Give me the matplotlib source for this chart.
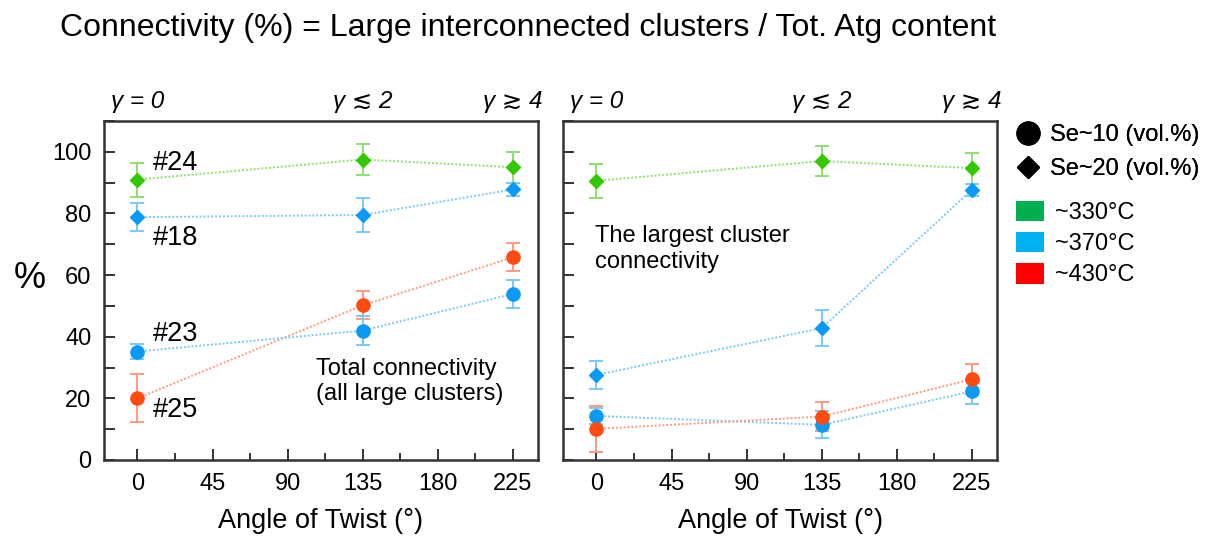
import matplotlib
matplotlib.use("Agg")
import matplotlib.pyplot as plt
from matplotlib.lines import Line2D
from matplotlib.patches import Patch
from matplotlib.ticker import MultipleLocator

plt.rcParams['font.family'] = ['Liberation Sans', 'DejaVu Sans']

angles = [0, 135, 225]

# Left panel: total connectivity
left_green_dia = [91.0, 97.5, 95.0]
left_green_dia_err = [5.5, 5.0, 5.0]
left_blue_dia = [78.8, 79.5, 87.8]
left_blue_dia_err = [4.5, 5.5, 2.0]
left_red_circ = [20.0, 50.2, 65.8]
left_red_circ_err = [7.8, 4.5, 4.6]
left_blue_circ = [35.2, 42.0, 53.9]
left_blue_circ_err = [2.5, 4.6, 4.6]

# Right panel: largest cluster connectivity
right_green_dia = [90.6, 97.0, 94.7]
right_green_dia_err = [5.5, 5.0, 5.0]
right_blue_dia = [27.6, 42.8, 87.7]
right_blue_dia_err = [4.5, 5.8, 2.0]
right_red_circ = [10.1, 14.1, 26.2]
right_red_circ_err = [7.5, 4.6, 4.8]
right_blue_circ = [14.3, 11.4, 22.3]
right_blue_circ_err = [2.5, 4.4, 4.0]

gamma_labels = ["γ = 0", "γ ≲ 2", "γ ≳ 4"]
xticks = [0, 45, 90, 135, 180, 225]
yticks = [0, 20, 40, 60, 80, 100]
legend_shape_labels = ["Se~10 (vol.%)", "Se~20 (vol.%)"]
legend_temp_labels = ["~330°C", "~370°C", "~430°C"]

GREEN = "#33c800"
GREEN_L = "#8fe070"
BLUE = "#0a9af5"
BLUE_L = "#7cc8f7"
RED = "#ff4a10"
RED_L = "#ff9a80"

fig = plt.figure(figsize=(12.12, 5.36), dpi=100)
axL = fig.add_axes([104/1212, 1-460/536, 434/1212, 339/536])
axR = fig.add_axes([563/1212, 1-460/536, 434/1212, 339/536])


def series(ax, y, err, color, lcolor, marker, ms):
    ax.errorbar(angles, y, yerr=err, fmt='none', ecolor=lcolor, elinewidth=1.4,
                capsize=5, capthick=1.4, zorder=2)
    ax.plot(angles, y, linestyle=(0, (1, 1)), color=lcolor, linewidth=1.4, zorder=2)
    ax.plot(angles, y, linestyle='none', marker=marker, markersize=ms,
            color=color, markeredgecolor=color, zorder=3)


for ax, data in [
    (axL, [(left_green_dia, left_green_dia_err, GREEN, GREEN_L, 'D', 7.0),
           (left_blue_dia, left_blue_dia_err, BLUE, BLUE_L, 'D', 7.0),
           (left_red_circ, left_red_circ_err, RED, RED_L, 'o', 9.5),
           (left_blue_circ, left_blue_circ_err, BLUE, BLUE_L, 'o', 9.5)]),
    (axR, [(right_green_dia, right_green_dia_err, GREEN, GREEN_L, 'D', 7.0),
           (right_blue_dia, right_blue_dia_err, BLUE, BLUE_L, 'D', 7.0),
           (right_blue_circ, right_blue_circ_err, BLUE, BLUE_L, 'o', 9.5),
           (right_red_circ, right_red_circ_err, RED, RED_L, 'o', 9.5)]),
]:
    for y, e, c, lc, m, ms in data:
        series(ax, y, e, c, lc, m, ms)
    ax.set_xlim(-20, 240)
    ax.set_ylim(0, 110)
    ax.set_xticks(xticks)
    ax.xaxis.set_minor_locator(MultipleLocator(22.5))
    ax.set_yticks(yticks)
    ax.yaxis.set_minor_locator(MultipleLocator(10))
    ax.tick_params(axis='both', which='major', direction='in', length=8, width=1.4,
                   color='#333333', labelsize=17, pad=9)
    ax.tick_params(axis='y', which='minor', direction='in', length=8, width=1.4, color='#333333')
    ax.tick_params(axis='x', which='minor', direction='in', length=5, width=1.4, color='#333333')
    for s in ax.spines.values():
        s.set_linewidth(1.8)
        s.set_color('#333333')
    ax.set_xlabel("Angle of Twist (°)", fontsize=19.5, labelpad=10)
    for xv, lab in zip(angles, gamma_labels):
        ax.text(xv, 1.025, lab, transform=ax.get_xaxis_transform(), ha='center',
                va='bottom', fontsize=17.5, style='italic',
                family=['Liberation Sans', 'DejaVu Sans'])

axR.tick_params(axis='y', labelleft=False)
axL.set_ylabel("%", fontsize=26, rotation=0, va='center', ha='center')
axL.yaxis.set_label_coords(-0.17, 0.535)

# Annotations
axL.text(9, 96.5, "#24", fontsize=19.5, va='center', ha='left')
axL.text(9, 72.0, "#18", fontsize=19.5, va='center', ha='left')
axL.text(9, 41.0, "#23", fontsize=19.5, va='center', ha='left')
axL.text(9, 16.2, "#25", fontsize=19.5, va='center', ha='left')
axL.text(107, 25.5, "Total connectivity\n(all large clusters)", fontsize=17,
         va='center', ha='left', linespacing=1.2)
axR.text(-1, 68.5, "The largest cluster\nconnectivity", fontsize=17,
         va='center', ha='left', linespacing=1.2)

fig.text(60/1212, 1-28/536, "Connectivity (%) = Large interconnected clusters / Tot. Atg content",
         fontsize=23, va='center', ha='left')

# Legends
shape_handles = [Line2D([], [], linestyle='none', marker='o', markersize=16.5, color='black'),
                 Line2D([], [], linestyle='none', marker='D', markersize=11, color='black')]
leg1 = fig.legend(shape_handles, legend_shape_labels, loc='upper left',
                  bbox_to_anchor=(1016/1212, 1-124/536), frameon=False, fontsize=17,
                  handlelength=1.0, handletextpad=0.45, labelspacing=0.5, borderaxespad=0,
                  borderpad=0)
temp_handles = [Patch(facecolor="#00b050"), Patch(facecolor="#00b0f0"), Patch(facecolor="#ff0000")]
leg2 = fig.legend(temp_handles, legend_temp_labels, loc='upper left',
                  bbox_to_anchor=(1016/1212, 1-201/536), frameon=False, fontsize=17,
                  handlelength=1.2, handleheight=0.95, handletextpad=0.45, labelspacing=0.33,
                  borderaxespad=0, borderpad=0)
fig.add_artist(leg1)

fig.savefig("out.png", dpi=100)
